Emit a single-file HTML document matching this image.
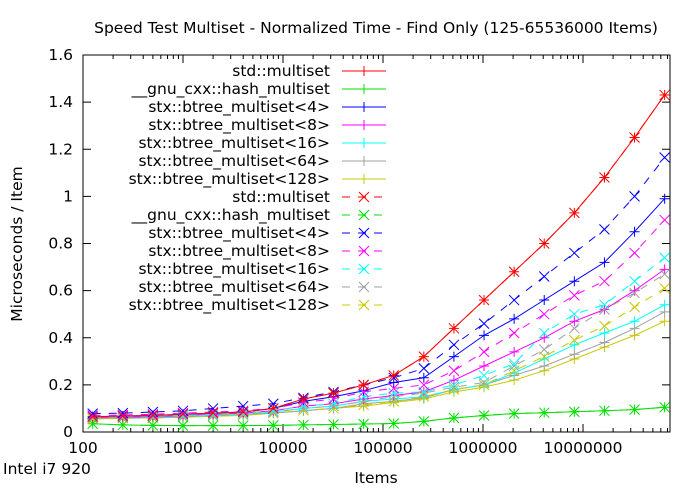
<!DOCTYPE html>
<html><head><meta charset="utf-8"><style>
body{margin:0;background:#fff}
svg text{font-family:"DejaVu Sans","Liberation Sans",sans-serif;fill:#000}
</style></head><body>
<svg id="chart" width="700" height="490" xmlns="http://www.w3.org/2000/svg">
<text x="376" y="33" font-size="15.5" text-anchor="middle">Speed Test Multiset - Normalized Time - Find Only (125-65536000 Items)</text>
<text transform="translate(22,244) rotate(-90)" font-size="15.5" text-anchor="middle">Microseconds / Item</text>
<text x="376" y="483" font-size="15.5" text-anchor="middle">Items</text>
<text x="3" y="474" font-size="15.5">Intel i7 920</text>
<g id="axes"></g><g id="series"></g><g id="legend"></g>
</svg>
<script>
const xs=[125,250,500,1000,2000,4000,8000,16000,32000,64000,128000,256000,512000,1024000,2048000,4096000,8192000,16384000,32768000,65536000];
const yTicks=[0,0.2,0.4,0.6,0.8,1,1.2,1.4,1.6];
const yTickLabels=["0","0.2","0.4","0.6","0.8","1","1.2","1.4","1.6"];
const xTicks=[100,1000,10000,100000,1000000,10000000];
const xTickLabels=["100","1000","10000","100000","1000000","10000000"];
const names=["std::multiset","__gnu_cxx::hash_multiset","stx::btree_multiset<4>","stx::btree_multiset<8>","stx::btree_multiset<16>","stx::btree_multiset<64>","stx::btree_multiset<128>"];
const colors=["#ff0000","#00e000","#0000ff","#ff00ff","#00ffff","#a0a0a0","#c8c800"];
const solidStd=[0.065,0.067,0.07,0.075,0.08,0.085,0.1,0.14,0.165,0.2,0.24,0.32,0.44,0.56,0.68,0.8,0.93,1.08,1.25,1.43];
const solidHash=[0.035,0.03,0.028,0.027,0.027,0.027,0.028,0.03,0.032,0.034,0.036,0.045,0.06,0.07,0.078,0.082,0.086,0.09,0.095,0.105];
const solidB4=[0.065,0.068,0.07,0.075,0.08,0.085,0.1,0.13,0.15,0.175,0.21,0.23,0.32,0.41,0.48,0.56,0.64,0.72,0.85,0.99];
const solidB8=[0.06,0.062,0.065,0.07,0.075,0.08,0.09,0.11,0.12,0.14,0.155,0.17,0.22,0.28,0.34,0.4,0.47,0.52,0.6,0.69];
const solidB16=[0.06,0.06,0.062,0.065,0.07,0.075,0.085,0.1,0.11,0.13,0.14,0.15,0.18,0.2,0.25,0.31,0.37,0.42,0.47,0.54];
const solidB64=[0.06,0.06,0.06,0.065,0.07,0.075,0.08,0.09,0.1,0.12,0.13,0.145,0.18,0.2,0.24,0.28,0.33,0.38,0.44,0.51];
const solidB128=[0.055,0.058,0.06,0.063,0.067,0.07,0.08,0.09,0.1,0.11,0.125,0.14,0.17,0.19,0.22,0.26,0.31,0.36,0.41,0.47];
const dashStd=[0.065,0.067,0.07,0.075,0.08,0.085,0.1,0.14,0.165,0.2,0.24,0.32,0.44,0.56,0.68,0.8,0.93,1.08,1.25,1.43];
const dashHash=[0.035,0.03,0.028,0.027,0.027,0.027,0.028,0.03,0.032,0.034,0.036,0.045,0.06,0.07,0.078,0.082,0.086,0.09,0.095,0.105];
const dashB4=[0.078,0.08,0.085,0.09,0.1,0.11,0.12,0.145,0.17,0.2,0.23,0.27,0.37,0.46,0.56,0.66,0.76,0.86,1.0,1.165];
const dashB8=[0.07,0.072,0.075,0.08,0.085,0.09,0.1,0.125,0.14,0.17,0.185,0.2,0.26,0.34,0.42,0.5,0.58,0.64,0.76,0.9];
const dashB16=[0.065,0.065,0.068,0.07,0.075,0.08,0.09,0.11,0.12,0.15,0.165,0.17,0.2,0.24,0.29,0.42,0.5,0.54,0.64,0.74];
const dashB64=[0.06,0.06,0.062,0.065,0.07,0.075,0.085,0.1,0.11,0.13,0.15,0.165,0.19,0.21,0.28,0.35,0.44,0.52,0.59,0.67];
const dashB128=[0.055,0.058,0.06,0.063,0.068,0.072,0.08,0.092,0.1,0.115,0.13,0.15,0.18,0.2,0.26,0.32,0.39,0.45,0.53,0.61];
const solids=[solidStd,solidHash,solidB4,solidB8,solidB16,solidB64,solidB128];
const dashes=[dashStd,dashHash,dashB4,dashB8,dashB16,dashB64,dashB128];

const L=83,R=670,T=55,B=432;
const X=v=>L+(Math.log10(v)-2)*100;
const Y=v=>B-(v/1.6)*(B-T);
const NS="http://www.w3.org/2000/svg";
function mk(tag,attrs,parent){const e=document.createElementNS(NS,tag);for(const k in attrs)e.setAttribute(k,attrs[k]);parent.appendChild(e);return e;}
const axes=document.getElementById('axes'),ser=document.getElementById('series'),leg=document.getElementById('legend');

const frame=mk('rect',{x:L,y:T,width:R-L,height:B-T,fill:'none',stroke:'#000','stroke-width':1},axes);


yTicks.forEach((v,i)=>{
  const y=Y(v);
  mk('line',{x1:L,x2:L+8,y1:y,y2:y,stroke:'#000'},axes);
  mk('line',{x1:R,x2:R-8,y1:y,y2:y,stroke:'#000'},axes);
  const t=mk('text',{x:L-10,y:y+5,'font-size':15.5,'text-anchor':'end'},axes);
  t.textContent=yTickLabels[i];
  
  
});
xTicks.forEach((v,i)=>{
  const x=X(v);
  mk('line',{x1:x,x2:x,y1:B,y2:B-8,stroke:'#000'},axes);
  mk('line',{x1:x,x2:x,y1:T,y2:T+8,stroke:'#000'},axes);
  const t=mk('text',{x:x,y:B+21,'font-size':15.5,'text-anchor':'middle'},axes);
  t.textContent=xTickLabels[i];
  
  
  for(let m=2;m<10;m++){const xm=X(v*m);if(xm<R){
    mk('line',{x1:xm,x2:xm,y1:B,y2:B-4,stroke:'#000'},axes);
    mk('line',{x1:xm,x2:xm,y1:T,y2:T+4,stroke:'#000'},axes);}}
});

function plus(g,x,y,c){mk('path',{d:`M${x-5},${y}h10M${x},${y-5}v10`,stroke:c,fill:'none'},g);}
function cross(g,x,y,c){mk('path',{d:`M${x-5},${y-5}l10,10M${x-5},${y+5}l10,-10`,stroke:c,fill:'none'},g);}
function draw(data,c,dashed,i){
  const g=mk('g',{},ser);
  
  
  const pts=data.map((v,k)=>X(xs[k]).toFixed(1)+','+Y(v).toFixed(1)).join(' ');
  const a={points:pts,fill:'none',stroke:c,'stroke-width':1};
  if(dashed)a['stroke-dasharray']='8,8';
  mk('polyline',a,g);
  data.forEach((v,k)=>{(dashed?cross:plus)(g,X(xs[k]),Y(v),c);});
}
for(let i=6;i>=0;i--){draw(solids[i],colors[i],false,i);}
for(let i=6;i>=0;i--){draw(dashes[i],colors[i],true,i);}

for(let r=0;r<14;r++){
  const i=r%7,dashed=r>=7,y=71+r*18;
  const g=mk('g',{},leg);
  
  
  const t=mk('text',{x:330,y:y+5,'font-size':15.5,'text-anchor':'end'},g);
  t.textContent=names[i];
  const a={x1:342,x2:386,y1:y,y2:y,stroke:colors[i]};
  if(dashed)a['stroke-dasharray']='8,8';
  mk('line',a,g);
  (dashed?cross:plus)(g,364,y,colors[i]);
}
</script>
</body></html>
